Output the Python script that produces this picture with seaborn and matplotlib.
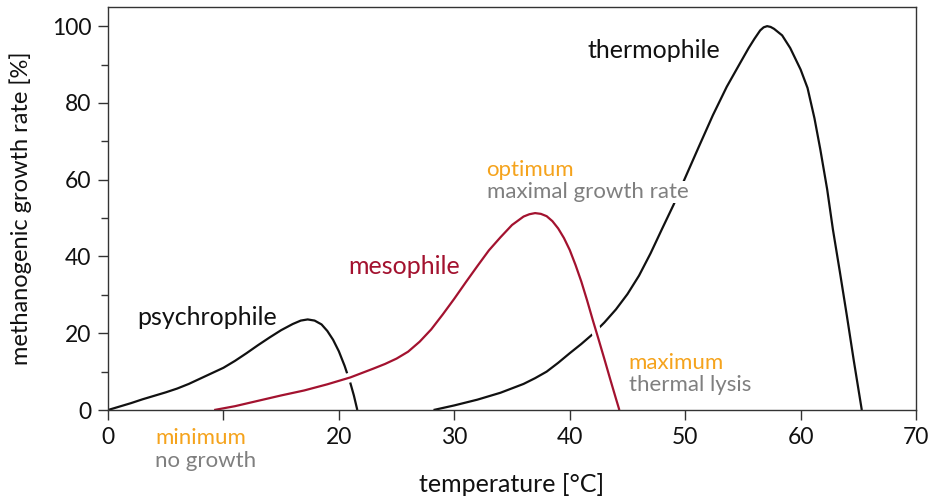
import matplotlib
matplotlib.use("Agg")
import matplotlib.pyplot as plt
import matplotlib.patheffects as pe
from matplotlib.ticker import MultipleLocator
import pandas as pd
import seaborn as sns

# Growth curves: temperature [°C] vs. relative methanogenic growth rate [%]
psychro_t = [0.0, 1.0, 2.0, 3.0, 4.0, 5.0, 6.0, 7.0, 8.0, 9.0, 10.0, 11.0, 12.0, 13.0,
             14.0, 15.0, 16.0, 16.7, 17.3, 17.9, 18.5, 19.0, 19.5, 20.0, 20.5, 21.0,
             21.3, 21.6]
psychro_r = [0.0, 0.9, 1.8, 2.8, 3.7, 4.6, 5.6, 6.8, 8.2, 9.6, 11.0, 12.8, 14.8, 16.9,
             18.9, 20.8, 22.4, 23.3, 23.6, 23.3, 22.3, 20.6, 18.3, 15.3, 11.5, 7.0,
             3.8, 0.0]

meso_t = [9.2, 11.0, 13.0, 15.0, 17.0, 19.0, 21.0, 23.0, 24.0, 25.0, 26.0, 27.0, 28.0,
          29.0, 30.0, 31.0, 32.0, 33.0, 34.0, 35.0, 36.0, 36.5, 37.0, 37.5, 38.0, 38.5,
          39.0, 39.5, 40.0, 40.5, 41.0, 41.5, 42.0, 42.5, 43.0, 43.5, 44.0, 44.3]
meso_r = [0.0, 1.0, 2.4, 3.8, 5.1, 6.7, 8.5, 10.8, 12.0, 13.4, 15.2, 17.8, 21.0,
          24.9, 29.0, 33.3, 37.5, 41.6, 45.0, 48.2, 50.4, 51.0, 51.3, 51.1, 50.5, 49.2,
          47.3, 44.8, 41.7, 37.8, 33.5, 28.6, 23.4, 18.4, 13.3, 8.1, 3.0, 0.0]

thermo_t = [28.2, 30.0, 32.0, 34.0, 36.0, 37.0, 38.0, 39.0, 40.0, 41.0, 42.0, 43.0,
            44.0, 45.0, 46.0, 47.0, 48.0, 49.0, 50.0, 51.2, 52.4, 53.6, 54.8, 55.5,
            56.0, 56.5, 56.8, 57.1, 57.4, 57.7, 58.4, 59.1, 60.0, 60.6, 61.2, 61.7,
            62.3, 62.8, 63.4, 64.0, 64.6, 65.3]
thermo_r = [0.0, 1.2, 2.7, 4.5, 6.8, 8.3, 10.0, 12.3, 14.8, 17.2, 19.8, 22.8,
            26.2, 30.2, 35.0, 40.8, 47.2, 53.5, 60.5, 68.7, 76.8, 84.2, 90.6, 94.3,
            96.7, 98.9, 99.7, 100.0, 99.8, 99.3, 97.6, 94.3, 88.7, 83.9, 76.0, 68.0,
            57.5, 47.0, 36.0, 24.7, 13.0, 0.0]

x_ticks = [0, 10, 20, 30, 40, 50, 60, 70]
x_tick_labels = ["0", "", "20", "30", "40", "50", "60", "70"]
y_ticks = [0, 20, 40, 60, 80, 100]

BLACK = "#111111"
RED = "#a3122f"
ORANGE = "#f5a31c"
GREY = "#7f7f7f"

sns.set_theme(style="ticks")
plt.rcParams["font.family"] = ["Lato", "DejaVu Sans"]

fig = plt.figure(figsize=(9.3, 4.97), dpi=100)
ax = fig.add_axes([0.1161, 0.175, 0.985 - 0.1161, 0.986 - 0.175])

df_p = pd.DataFrame({"t": psychro_t, "r": psychro_r})
df_m = pd.DataFrame({"t": meso_t, "r": meso_r})
df_th = pd.DataFrame({"t": thermo_t, "r": thermo_r})

line_kw = dict(sort=False, lw=1.6, ax=ax, solid_joinstyle="round", solid_capstyle="butt")
sns.lineplot(data=df_p, x="t", y="r", color=BLACK, zorder=2, **line_kw)
sns.lineplot(data=df_th, x="t", y="r", color=BLACK, zorder=2, **line_kw)
sns.lineplot(data=df_m, x="t", y="r", color=RED, zorder=2.2, **line_kw)
# white halo so the mesophile curve cuts through the black curves it crosses
ax.lines[-1].set_path_effects([pe.Stroke(linewidth=7, foreground="white"), pe.Normal()])

ax.set_xlim(0, 70)
ax.set_ylim(0, 105)
ax.set_xticks(x_ticks)
ax.set_xticklabels(x_tick_labels)
ax.set_yticks(y_ticks)
ax.yaxis.set_minor_locator(MultipleLocator(10))
for s in ax.spines.values():
    s.set_visible(True)
    s.set_linewidth(1.0)
    s.set_color("#333333")
ax.tick_params(axis="both", which="major", length=7, width=1.0, color="#333333",
               labelsize=16.5, labelcolor=BLACK, pad=5)
ax.tick_params(axis="y", which="minor", length=5, width=1.0, color="#333333")
ax.tick_params(axis="x", which="minor", length=0)

ax.set_xlabel("temperature [°C]", fontsize=18, color=BLACK, labelpad=18)
ax.set_ylabel("methanogenic growth rate [%]", fontsize=17, color=BLACK, labelpad=14)

fs = 18
ax.text(2.5, 24.0, "psychrophile", fontsize=fs, color=BLACK, va="center", ha="left")
ax.text(20.8, 37.5, "mesophile", fontsize=fs, color=RED, va="center", ha="left")
ax.text(41.5, 93.7, "thermophile", fontsize=fs, color=BLACK, va="center", ha="left")

fs2 = 16
ax.text(32.8, 62.5, "optimum", fontsize=fs2, color=ORANGE, va="center", ha="left", zorder=3)
ax.text(32.8, 56.8, "maximal growth rate", fontsize=fs2, color=GREY, va="center", ha="left",
        zorder=3, bbox=dict(facecolor="white", edgecolor="none", pad=1.0))
ax.text(45.1, 12.2, "maximum", fontsize=fs2, color=ORANGE, va="center", ha="left")
ax.text(45.1, 6.5, "thermal lysis", fontsize=fs2, color=GREY, va="center", ha="left")
ax.text(4.07, -7.3, "minimum", fontsize=fs2, color=ORANGE, va="center", ha="left", clip_on=False)
ax.text(4.07, -13.3, "no growth", fontsize=fs2, color=GREY, va="center", ha="left", clip_on=False)

fig.savefig("out.png", dpi=100)
